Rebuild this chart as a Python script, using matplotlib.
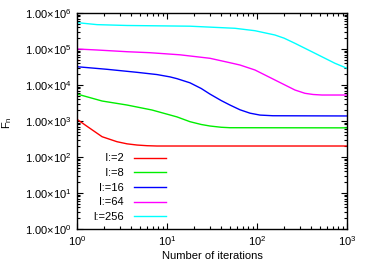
import math
import matplotlib
matplotlib.use('Agg')
import matplotlib.pyplot as plt
from matplotlib.ticker import FuncFormatter, LogLocator, NullFormatter

plt.rcParams['font.family'] = ['Liberation Sans', 'DejaVu Sans']
plt.rcParams['mathtext.fontset'] = 'custom'
plt.rcParams['mathtext.rm'] = 'Liberation Sans'
plt.rcParams['mathtext.it'] = 'Liberation Sans:italic'
plt.rcParams['font.size'] = 8

# data
labels = ['l:=2', 'l:=8', 'l:=16', 'l:=64', 'l:=256']
colors = ['#ff0000', '#00ee00', '#0000ff', '#ff00ff', '#00ffff']

x_l2 = [1, 1.29, 1.9, 2.78, 3.6, 4.64, 6, 7.74, 1000]
f_l2 = [1115, 714, 366, 266, 232, 215, 206, 202, 202]

x_l8 = [1, 1.9, 3.59, 6.81, 12.9, 18, 24, 30, 40, 50, 1000]
f_l8 = [5620, 3590, 2780, 2020, 1300, 957, 800, 726, 670, 651, 645]

x_l16 = [1, 2.15, 4.64, 7.74, 10.8, 12.9, 18, 24, 30, 40, 50, 64.7, 83.6,
         108, 150, 1000]
f_l16 = [32200, 27300, 22500, 19500, 16800, 15000, 11500, 8000, 5600, 3700,
         2780, 2050, 1650, 1460, 1400, 1380]

x_l64 = [1, 1.67, 3.59, 6.47, 13.9, 30, 50, 64.7, 95, 158, 264, 341, 420,
         527, 1000]
f_l64 = [100000, 93800, 84100, 78900, 69000, 55200, 41600, 35900, 26100,
         13800, 7260, 5880, 5450, 5270, 5270]

x_l256 = [1, 1.67, 3.59, 18, 57, 95, 158, 200, 264, 441, 735, 1000]
f_l256 = [540000, 475000, 450000, 430000, 376000, 322000, 245000, 200000,
          144000, 76000, 40100, 29100]

xs = [x_l2, x_l8, x_l16, x_l64, x_l256]
fs = [f_l2, f_l8, f_l16, f_l64, f_l256]

fig = plt.figure(figsize=(3.82, 2.66), dpi=100)
ax = fig.add_axes([77/382, 1-229/266, 270/382, 216/266])

for x, f, c, lab in zip(xs, fs, colors, labels):
    ax.plot(x, f, color=c, lw=1.0, label=lab)

ax.set_xscale('log')
ax.set_yscale('log')
ax.set_xlim(1, 1000)
ax.set_ylim(1, 1e6)

ax.xaxis.set_major_locator(LogLocator(base=10, numticks=10))
ax.yaxis.set_major_locator(LogLocator(base=10, numticks=10))
ax.xaxis.set_minor_locator(LogLocator(base=10, subs=range(2, 10), numticks=20))
ax.yaxis.set_minor_locator(LogLocator(base=10, subs=range(2, 10), numticks=20))
ax.xaxis.set_minor_formatter(NullFormatter())
ax.yaxis.set_minor_formatter(NullFormatter())
ax.xaxis.set_major_formatter(FuncFormatter(lambda v, p: r'$10^{%d}$' % round(math.log10(v))))
ax.yaxis.set_major_formatter(FuncFormatter(lambda v, p: r'$1.00{\times}10^{%d}$' % round(math.log10(v))))

ax.tick_params(which='both', direction='in', top=True, right=True, width=0.8)
ax.tick_params(which='major', length=4, pad=4)
ax.tick_params(which='minor', length=2)
for s in ax.spines.values():
    s.set_linewidth(1.0)

ax.set_xlabel('Number of iterations', labelpad=2)
fig.text(7/382, 1-123/266, r'F$_\mathrm{n}$', rotation=90, ha='center', va='center')

# right-aligned legend texts: pad with figure spaces
w = max(len(l) for l in labels)
padded = ['\u2007' * (w - len(l)) + l for l in labels]
handles = ax.get_lines()
leg = ax.legend(handles, padded, loc='upper left', bbox_to_anchor=(0.06, 0.35),
                frameon=False, markerfirst=False, handlelength=2.9,
                handletextpad=0.9, labelspacing=0.42, borderpad=0, borderaxespad=0)

fig.savefig('out.png', dpi=100)
